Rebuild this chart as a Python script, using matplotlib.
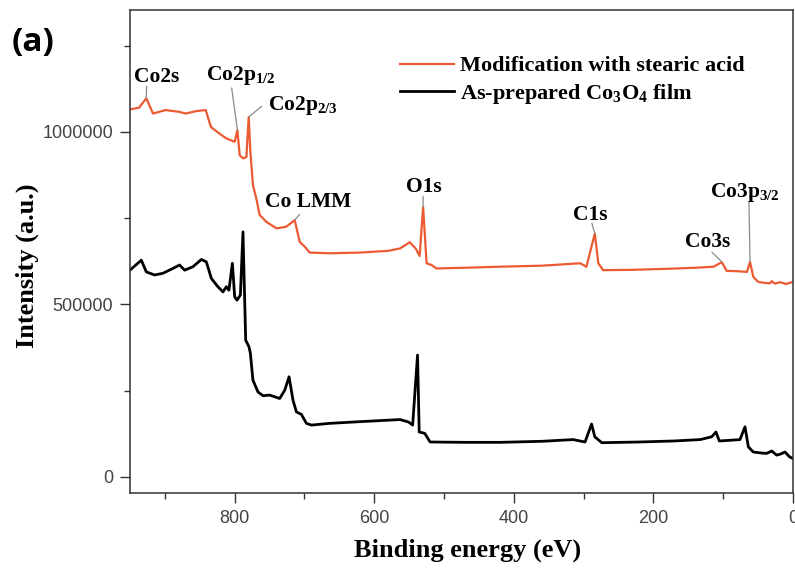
import matplotlib
matplotlib.use("Agg")
import numpy as np
import matplotlib.pyplot as plt
from matplotlib.ticker import MultipleLocator, FormatStrFormatter

plt.rcParams['mathtext.fontset'] = 'custom'
plt.rcParams['mathtext.rm'] = 'Liberation Serif:bold'
plt.rcParams['mathtext.it'] = 'Liberation Serif:bold'
plt.rcParams['mathtext.bf'] = 'Liberation Serif:bold'

# survey spectrum after stearic acid treatment
energy_mod = [950, 937, 926.6, 917, 899, 880, 870, 855, 841.5, 834, 822, 812, 800,
              796.1, 792.8, 788, 783.2, 779.9, 777.5, 773.8, 769, 764.2, 754.6, 740,
              726, 714, 706.8, 699.6, 692.5, 664, 620, 580, 563, 549, 540, 535, 530,
              525, 518, 511, 470, 420, 360, 305, 296, 284, 279, 272, 230, 180, 140,
              114, 102, 95, 80, 66, 61.6, 57, 50, 40, 33, 30.5, 26, 18.6, 10, 0]
intensity_mod = [1065000, 1070000, 1097000, 1053000, 1063000, 1058000, 1053000, 1060000,
                 1063000, 1014000, 995000, 981000, 971000, 1005000, 932000, 923000,
                 927000, 1043000, 942000, 845000, 807000, 759000, 739000, 720000,
                 725000, 744000, 681000, 667000, 650000, 648000, 650000, 655000,
                 662000, 680000, 660000, 640000, 782000, 619000, 614000, 604000,
                 606000, 609000, 612000, 619000, 609000, 705000, 619000, 599000,
                 600000, 603000, 606000, 609000, 622000, 597000, 596000, 594000,
                 623000, 580000, 565000, 562000, 561000, 567000, 560000, 564000,
                 559000, 565000]

# survey spectrum of the bare Co3O4 film
energy_raw = [950, 933.8, 926.6, 914.7, 902.8, 888.5, 879, 871.7, 859.8, 847.7, 840.6,
              833.4, 824, 816.8, 811.9, 808.2, 803.3, 800, 796.7, 791.8, 788.1, 784.2,
              779.5, 777.5, 773.8, 766.6, 759.4, 749.8, 735.5, 728.3, 722.1, 716.4,
              711.5, 704.4, 697.2, 690, 664, 620, 563, 551, 545, 538, 535.6, 527.6,
              520, 470, 420, 360, 315, 298, 288.6, 284, 274, 220, 170, 133, 116.6,
              110.4, 105.6, 90, 76, 68.8, 64, 57, 45, 37.7, 30.5, 23.4, 18, 11.5, 5, 0]
intensity_raw = [599000, 628000, 594000, 585000, 590000, 604000, 614000, 599000, 609000,
                 630000, 623000, 575000, 551000, 536000, 551000, 541000, 619000, 522000,
                 512000, 527000, 710000, 396000, 377000, 358000, 280000, 246000, 235000,
                 237000, 227000, 251000, 290000, 222000, 188000, 181000, 155000, 150000,
                 155000, 160000, 166000, 159000, 150000, 353000, 130000, 126000, 101000,
                 100000, 100000, 103000, 108000, 101000, 153000, 116000, 99000, 101000,
                 104000, 108000, 116000, 130000, 104000, 106000, 108000, 145000, 87000,
                 72000, 69000, 68000, 75000, 63000, 66000, 72000, 58000, 53000]

# peak labels: text, text anchor (E, I), leader start (E, I), peak (E, I)
peak_labels = [
    ("Co2s", (911.8, 1145000), (926.2, 1132000), (926.6, 1097000), 'center'),
    ("Co2p$_{1/2}$", (841.5, 1150000), (804.3, 1127000), (796.1, 1005000), 'left'),
    ("Co2p$_{2/3}$", (752.7, 1063000), (761.3, 1074000), (779.9, 1043000), 'left'),
    ("Co LMM", (757.0, 781000), (706.8, 761000), (714.0, 744000), 'left'),
    ("O1s", (529.0, 826000), (530.0, 813000), (530.0, 782000), 'center'),
    ("C1s", (291.0, 744000), (288.2, 735000), (284.0, 705000), 'center'),
    ("Co3s", (121.9, 666000), (116.1, 651000), (102.0, 623000), 'center'),
    ("Co3p$_{3/2}$", (119.0, 812000), (63.1, 796000), (61.6, 623000), 'left'),
]

serif = dict(family='Liberation Serif', weight='bold')

fig = plt.figure(figsize=(7.95, 5.72), dpi=100)
ax = fig.add_axes([0.1635, 0.138, 0.834, 0.8445])

ax.plot(energy_mod, intensity_mod, color='#ec5a32', lw=1.6,
        label='Modification with stearic acid')
ax.plot(energy_raw, intensity_raw, color='black', lw=2.0,
        label='As-prepared Co$_3$O$_4$ film')

for text, pos, start, peak, ha in peak_labels:
    ax.annotate('', xy=peak, xytext=start,
                arrowprops=dict(arrowstyle='-', color='#8a8a8a', lw=0.9,
                                shrinkA=0, shrinkB=0))
    ax.text(pos[0], pos[1], text, ha=ha, va='baseline', fontsize=15.5, **serif)

ax.set_xlim(950, 0)
ax.set_ylim(-47000, 1353000)
ax.xaxis.set_major_locator(MultipleLocator(200))
ax.xaxis.set_minor_locator(MultipleLocator(100))
ax.yaxis.set_major_locator(MultipleLocator(500000))
ax.yaxis.set_minor_locator(MultipleLocator(250000))
ax.yaxis.set_major_formatter(FormatStrFormatter('%d'))
ax.tick_params(which='major', length=7, width=1.0, color='#333333', pad=5,
               labelsize=13, labelcolor='#444444')
ax.tick_params(which='minor', length=4, width=1.0, color='#333333')
for lab in ax.get_xticklabels() + ax.get_yticklabels():
    lab.set_family('Liberation Sans')
for sp in ax.spines.values():
    sp.set_color('#333333')
    sp.set_linewidth(1.1)

ax.set_xlabel('Binding energy (eV)', fontsize=19, labelpad=8, **serif)
ax.xaxis.set_label_coords(0.509, -0.095)
ax.set_ylabel('Intensity (a.u.)', fontsize=19, **serif)
ax.yaxis.set_label_coords(-0.137, 0.47)

leg = ax.legend(loc='upper left', bbox_to_anchor=(0.408, 0.905), frameon=False,
                prop=dict(family='Liberation Serif', weight='bold', size=16),
                handlelength=2.4, handletextpad=0.3, labelspacing=0.25,
                borderpad=0, borderaxespad=0)

fig.text(0.0415, 0.925, '(a)', fontsize=24, fontweight='bold',
         family='Open Sans', ha='center', va='center')

fig.savefig('out.png', dpi=100)
